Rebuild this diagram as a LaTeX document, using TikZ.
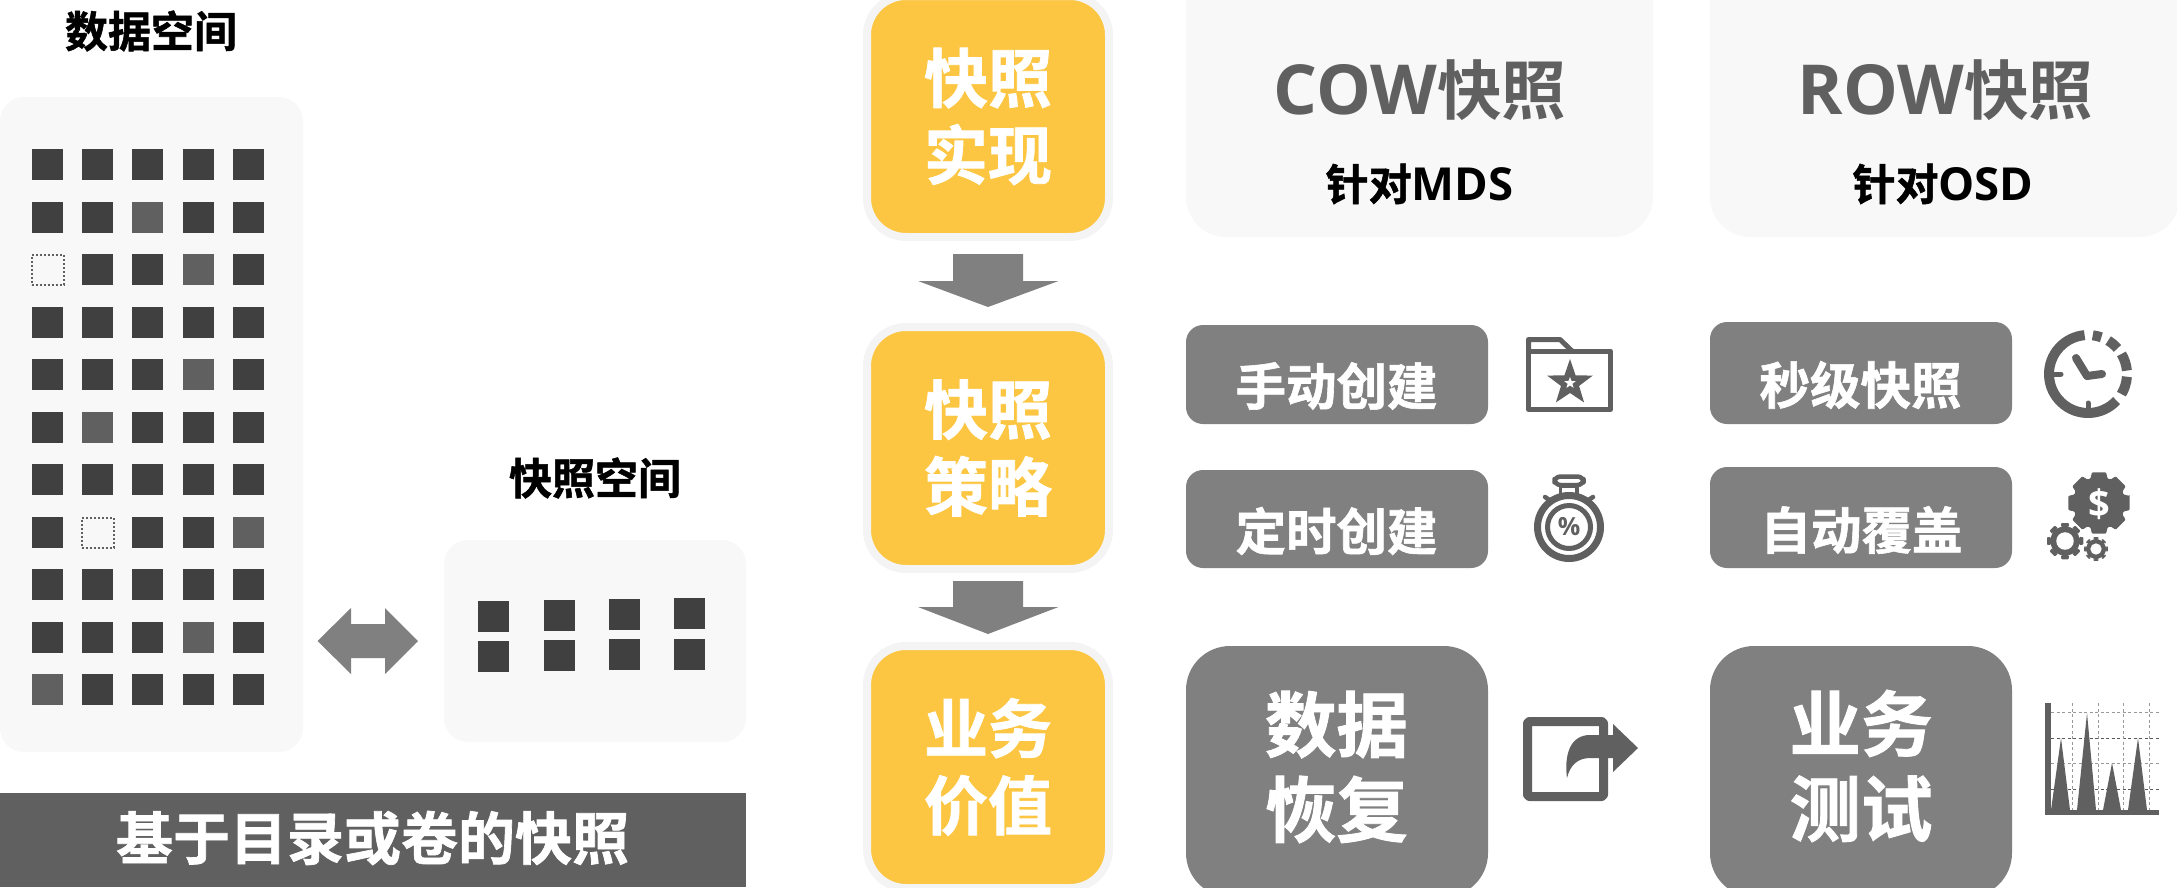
\documentclass[tikz,border=0pt]{standalone}
\usepackage{fontspec}
\setmainfont{Noto Sans CJK SC}[BoldFont={Noto Sans CJK SC Bold}]
\newfontfamily\cjkb{Noto Sans CJK SC Bold}
\newfontfamily\cjkh{Noto Sans CJK SC Bold}[FakeBold=1.2]
\newfontfamily\latb{Open Sans}[BoldFont=*,UprightFont=* Bold]
\definecolor{panelgray}{HTML}{F8F8F8}
\definecolor{boxgray}{HTML}{808080}
\definecolor{icongray}{HTML}{606060}
\definecolor{sqdark}{HTML}{404040}
\definecolor{sqlight}{HTML}{606060}
\definecolor{amber}{HTML}{FCC642}
\definecolor{halo}{HTML}{F4F4F4}
\tikzset{
  anynode/.style={inner sep=0pt,outer sep=0pt,align=center},
  panel/.style={anynode,fill=panelgray,rounded corners=24pt},
  sqd/.style={anynode,fill=sqdark,minimum width=31pt,minimum height=31pt},
  sql/.style={anynode,fill=sqlight,minimum width=31pt,minimum height=31pt},
  sqe/.style={anynode,draw=icongray,line width=2pt,dash pattern=on 2pt off 2pt,minimum width=32pt,minimum height=30pt},
  amberbox/.style={anynode,fill=amber,draw=halo,line width=8pt,rounded corners=39pt,minimum width=242pt,text=white},
  amberfont/.style={font=\fontsize{64}{77}\selectfont\cjkh},
  smallbox/.style={anynode,fill=boxgray,rounded corners=17pt,minimum width=302pt},
  smalltext/.style={anynode,text=white,font=\fontsize{50.5}{60}\selectfont\cjkh},
  bigbox/.style={anynode,fill=boxgray,rounded corners=44pt,minimum width=302pt},
  bigtext/.style={anynode,text=white,font=\fontsize{71.5}{85}\selectfont\cjkh},
  toppanel/.style={anynode,fill=panelgray,rounded corners=40pt},
  heading/.style={anynode,text=black,font=\fontsize{43}{50}\selectfont\cjkh},
  blockarrow/.style={fill=boxgray},
  iconline/.style={draw=icongray,line join=round},
  gridlight/.style={draw=black!40,line width=1pt,dash pattern=on 3pt off 2.5pt},
  griddark/.style={draw=black!65,line width=1pt,dash pattern=on 3pt off 2.5pt}
}
\newcommand{\gearicon}[6]{% cx, cy, R, r, hole, extra
  \fill[icongray,even odd rule,rounded corners=1pt,#6]
    ([shift={(#1,#2)}]-13:#3)
    \foreach \ga in {0,45,...,315}{
      -- ([shift={(#1,#2)}]\ga-13:#3) -- ([shift={(#1,#2)}]\ga+13:#3)
      -- ([shift={(#1,#2)}]\ga+19:#4) -- ([shift={(#1,#2)}]\ga+26:#4)
    } -- cycle (#1+#5,#2) arc[start angle=0,end angle=360,radius=#5 pt];
}
\begin{document}
\begin{tikzpicture}[x=1pt,y=1pt,yscale=-1]
\useasboundingbox (0,0) rectangle (2177,887);
\clip (0,0) rectangle (2177,887);
% left
\node[heading] (hdata) at (151,31) {数据空间};
\node[heading] (hsnap) at (595,478) {快照空间};
\node[panel,minimum width=303pt,minimum height=655pt] (pdata) at (151.5,424.5) {};
\node[panel,minimum width=302pt,minimum height=202pt] (psnap) at (595,641) {};
\foreach \y/\a/\b/\c/\d/\e in {
  164/sqd/sqd/sqd/sqd/sqd,
  217.5/sqd/sqd/sql/sqd/sqd,
  269.5/sqe/sqd/sqd/sql/sqd,
  322.5/sqd/sqd/sqd/sqd/sqd,
  374.5/sqd/sqd/sqd/sql/sqd,
  427.5/sqd/sql/sqd/sqd/sqd,
  479.5/sqd/sqd/sqd/sqd/sqd,
  532.5/sqd/sqe/sqd/sqd/sql,
  584.5/sqd/sqd/sqd/sqd/sqd,
  637.5/sqd/sqd/sqd/sql/sqd,
  689.5/sql/sqd/sqd/sqd/sqd}{
  \node[\a] (ca\y) at (47.5,\y) {};
  \node[\b] (cb\y) at (97.5,\y) {};
  \node[\c] (cc\y) at (147.5,\y) {};
  \node[\d] (cd\y) at (198.5,\y) {};
  \node[\e] (ce\y) at (248.5,\y) {};
}
\foreach \n/\x/\ya/\yb in {1/493.5/616.5/656.5,2/559.5/615.5/655.5,3/624.5/614.5/654.5,4/689.5/613.5/654.5}{
  \node[sqd] (sa\n) at (\x,\ya) {};
  \node[sqd] (sb\n) at (\x,\yb) {};
}
\fill[blockarrow] (317.5,641) -- (351,608) -- (351,624) -- (385,624) -- (385,608) -- (418,641) -- (385,674) -- (385,658) -- (351,658) -- (351,674) -- cycle;
\node[anynode,fill=sqlight,minimum width=746pt,minimum height=94pt] (bar) at (373,840) {};
\node[anynode,text=white,font=\fontsize{57}{68}\selectfont\cjkh] (bartext) at (372.5,838) {基于目录或卷的快照};
% amber column
\node[amberbox,amberfont,minimum height=241pt] (y1) at (988,116.5) {快照\\实现};
\node[amberbox,amberfont,minimum height=242pt] (y2) at (988,448) {快照\\策略};
\node[amberbox,amberfont,minimum height=242pt] (y3) at (988,767) {业务\\价值};
\fill[blockarrow] (953,254) -- (1023,254) -- (1023,281) -- (1058.5,281) -- (988,307) -- (918,281) -- (953,281) -- cycle;
\fill[blockarrow] (953,581) -- (1023,581) -- (1023,607) -- (1058.5,607) -- (988,634) -- (918,607) -- (953,607) -- cycle;
% top panels
\node[toppanel,minimum width=467pt,minimum height=277pt] (p1) at (1419.5,98.5) {};
\node[toppanel,minimum width=470pt,minimum height=277pt] (p2) at (1945,98.5) {};
\node[anynode,text=icongray] (cow) at (1420,90) {\fontsize{69}{80}\selectfont\latb COW\fontsize{64.5}{80}\selectfont\cjkb 快照};
\node[anynode,text=icongray] (row) at (1945.5,90) {\fontsize{69}{80}\selectfont\latb ROW\fontsize{64.5}{80}\selectfont\cjkb 快照};
\node[anynode,text=black] (mds) at (1419.5,184) {\fontsize{43}{50}\selectfont\cjkh 针对\fontsize{45.5}{50}\selectfont\latb MDS};
\node[anynode,text=black] (osd) at (1943,184) {\fontsize{43}{50}\selectfont\cjkh 针对\fontsize{45.5}{50}\selectfont\latb OSD};
% small boxes
\node[smallbox,minimum height=99pt] (s1) at (1337,374.5) {};
\node[smallbox,minimum height=98pt] (s2) at (1337,519) {};
\node[smallbox,minimum height=102pt] (s3) at (1861,373) {};
\node[smallbox,minimum height=101pt] (s4) at (1861,517.5) {};
\node[smalltext] (t1) at (1336.5,386) {手动创建};
\node[smalltext] (t2) at (1336.5,531) {定时创建};
\node[smalltext] (t3) at (1860.5,385) {秒级快照};
\node[smalltext] (t4) at (1861.5,530) {自动覆盖};
% big boxes
\node[bigbox,minimum height=251pt] (b1) at (1337,771.5) {};
\node[bigbox,minimum height=251pt] (b2) at (1861,771.5) {};
\node[bigtext] (bt1) at (1336.5,767) {数据\\恢复};
\node[bigtext] (bt2) at (1861,766) {业务\\测试};
% folder icon
\draw[iconline,line width=5pt] (1528.5,351) -- (1528.5,409.5) -- (1610.5,409.5) -- (1610.5,351) -- cycle;
\draw[iconline,line width=5pt] (1528.5,351) -- (1528.5,339.5) -- (1560,339.5) -- (1572,351);
\fill[icongray] (1570,359) \foreach \a/\r in {-54/9.5,-18/24,18/9.5,54/24,90/10,126/24,162/9.5,198/24,234/9.5}{ -- ([shift={(1570,383)}]\a:\r)} -- cycle;
\fill[white] (1570,377) \foreach \a/\r in {-54/2.5,-18/6,18/2.5,54/6,90/2.5,126/6,162/2.5,198/6,234/2.5}{ -- ([shift={(1570,383)}]\a:\r)} -- cycle;
% stopwatch icon
\draw[iconline,line width=7pt] (1569,527) circle[radius=31.5pt];
\draw[iconline,line width=5pt] (1569,527) circle[radius=21.5pt];
\draw[iconline,line width=4.5pt,rounded corners=6pt] (1554.5,476.5) rectangle (1583.5,485);
\draw[iconline,line width=3.5pt] (1560.5,486) rectangle (1577,495);
\draw[icongray,line width=4.5pt,line cap=round] (1545,497) -- (1551,501);
\draw[icongray,line width=4.5pt,line cap=round] (1593,497) -- (1587,501);
\node[anynode,text=icongray,font=\fontsize{25}{30}\selectfont\latb] (pct) at (1569,527) {\%};
% clock icon
\draw[icongray,line width=10pt] ([shift={(2088,374)}]43:39pt) arc[start angle=43,end angle=265,radius=39pt];
\draw[icongray,line width=10pt] ([shift={(2088,374)}]-83:39pt) arc[start angle=-83,end angle=-70,radius=39pt];
\draw[icongray,line width=10pt] ([shift={(2088,374)}]-59:39pt) arc[start angle=-59,end angle=-41,radius=39pt];
\draw[icongray,line width=10pt] ([shift={(2088,374)}]-31:39pt) arc[start angle=-31,end angle=-5,radius=39pt];
\draw[icongray,line width=10pt] ([shift={(2088,374)}]4:39pt) arc[start angle=4,end angle=31,radius=39pt];
\draw[icongray,line width=5pt,line cap=round] (2052,374) -- (2061,374);
\draw[icongray,line width=5pt,line cap=round] (2088,403) -- (2088,408);
\draw[icongray,line width=8pt,line cap=round,line join=round] (2076,358) -- (2087,376) -- (2102,374);
% gears
\gearicon{2099}{503}{31.5}{26}{0.01}{}
\node[anynode,text=white,font=\fontsize{38}{44}\selectfont\latb] (dollar) at (2099,504) {\$};
\gearicon{2065}{541}{19.5}{15.5}{8}{draw=white,line width=1.5pt}
\gearicon{2096}{549}{13}{10.5}{5}{draw=white,line width=1.2pt}
% share icon
\draw[iconline,line width=9pt,rounded corners=2pt] (1527.5,721.5) rectangle (1603.5,796.5);
\fill[icongray] (1567,778) .. controls (1564,755) and (1570,735) .. (1590,735) -- (1613,735) -- (1613,724) -- (1638,748) -- (1613,772) -- (1613,758) -- (1590,758) .. controls (1578,758) and (1570,765) .. (1567,778) -- cycle;
% chart icon
\foreach \yy/\st in {712/gridlight,738/griddark,763/gridlight,789/griddark}{
  \draw[\st] (2051,\yy) -- (2159,\yy);
}
\foreach \xx in {2072,2098.5,2123,2149.5}{
  \draw[gridlight] (\xx,703) -- (\xx,810);
}
\fill[icongray] (2051,810) -- (2061,738) -- (2070,810) -- cycle;
\fill[icongray] (2077,810) -- (2087,713) -- (2096,810) -- cycle;
\fill[icongray] (2103,810) -- (2112,763) -- (2121,810) -- cycle;
\fill[icongray] (2128,810) -- (2138,738) -- (2147,810) -- cycle;
\fill[icongray] (2045,703) rectangle (2051,815);
\fill[icongray] (2045,810) rectangle (2159,815);
\end{tikzpicture}
\end{document}
